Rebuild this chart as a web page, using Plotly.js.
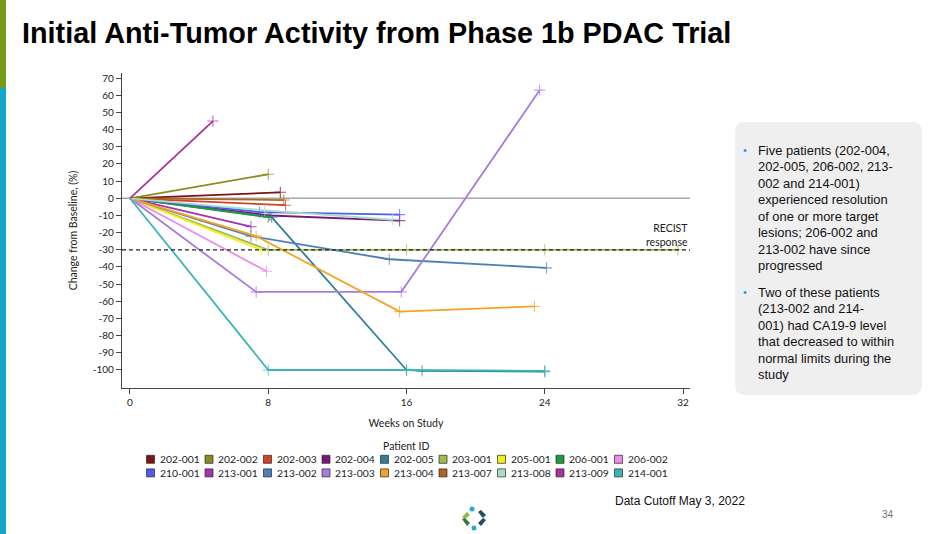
<!DOCTYPE html>
<html><head><meta charset="utf-8">
<script src="https://cdn.plot.ly/plotly-3.0.1.min.js"></script>
<style>html,body{margin:0;padding:0;background:#fff;}#chart{width:950px;height:534px;}</style>
</head><body><div id="chart"></div>
<script>
// ---- data ----
const patientIds = ['202-001','202-002','202-003','202-004','202-005','203-001','205-001','206-001','206-002',
                    '210-001','213-001','213-002','213-003','213-004','213-007','213-008','213-009','214-001'];
const lineColors = ['#7B1414','#8C8C1E','#D2402C','#78187A','#2F7E9C','#9CBE4E','#F2EE22','#1F9A3C','#EC8CEC',
                    '#4E5CF0','#A233B2','#4F7FBA','#A97BDE','#F5A324','#B0651C','#A6DEC6','#A8319E','#3DB5B7'];
const weeksOnStudy = [
  [0, 8.7], [0, 8.0], [0, 9.0], [0, 8.1, 15.6], [0, 8.2, 16.0, 16.9, 24.0],
  [0, 8.0, 16.0, 24.0, 31.7], [0, 7.6], [0, 8.0], [0, 7.9],
  [0, 7.5, 15.6], [0, 7.0], [0, 7.0, 15.0, 24.1], [0, 7.3, 15.7, 23.7], [0, 7.3, 15.6, 23.4],
  [0, 8.9], [0, 7.8, 15.2], [0, 4.8], [0, 8.0, 16.0, 24.0]
];
const pctChange = [
  [0, 3.5], [0, 14], [0, -4], [0, -10, -13], [0, -11, -100, -100.5, -101],
  [0, -30, -30, -30, -30], [0, -30], [0, -11], [0, -42.5],
  [0, -8, -9.5], [0, -16.5], [0, -22, -35.5, -40.5], [0, -54.5, -54.5, 63], [0, -22, -66, -63],
  [0, -1], [0, -7, -12.5], [0, 45], [0, -100, -100, -100.5]
];
const yTicks = [-100,-90,-80,-70,-60,-50,-40,-30,-20,-10,0,10,20,30,40,50,60,70];
const xTicks = [0, 8, 16, 24, 32];
const recistThreshold = -30;
const bulletPoints = [
  ['Five patients (202-004,', '202-005, 206-002, 213-', '002 and 214-001)', 'experienced resolution',
   'of one or more target', 'lesions; 206-002 and', '213-002 have since', 'progressed'],
  ['Two of these patients', '(213-002 and 214-', '001) had CA19-9 level', 'that decreased to within',
   'normal limits during the', 'study']
];

// ---- page geometry ----
const L = 122, R = 690, T = 73, B = 388;
const px = x => (x - L) / (R - L);
const py = y => (B - y) / (B - T);

const traces = patientIds.map((id, i) => ({
  type: 'scatter', mode: 'lines+markers', name: id, showlegend: false,
  x: weeksOnStudy[i], y: pctChange[i],
  line: { color: lineColors[i], width: 1.8 },
  marker: { symbol: 'cross-thin', size: weeksOnStudy[i].map((w, j) => j === 0 ? 0 : 8),
            color: lineColors[i], line: { color: lineColors[i], width: 1.1 } },
  hoverinfo: 'x+y+name'
}));

const shapes = [
  { type: 'line', xref: 'paper', x0: 0, x1: 1, yref: 'y', y0: 0, y1: 0, layer: 'below',
    line: { color: '#A8A8A8', width: 1.5 } },
  { type: 'line', xref: 'paper', x0: 0, x1: 1, yref: 'y', y0: recistThreshold, y1: recistThreshold, layer: 'above',
    line: { color: '#222', width: 1.3, dash: '4px,3px' } },
  // side bars
  { type: 'rect', xref: 'paper', yref: 'paper', x0: px(0), x1: px(6), y0: py(0), y1: py(88), line: { width: 0 }, fillcolor: '#779A17' },
  { type: 'rect', xref: 'paper', yref: 'paper', x0: px(0), x1: px(6), y0: py(88), y1: py(534), line: { width: 0 }, fillcolor: '#14A5C9' },
];
// rounded text box
(function () {
  const x0 = 735, x1 = 922, y0 = 122, y1 = 395, r = 10;
  const P = (x, y) => px(x).toFixed(5) + ',' + py(y).toFixed(5);
  const path = 'M' + P(x0 + r, y0) + ' L' + P(x1 - r, y0) + ' Q' + P(x1, y0) + ' ' + P(x1, y0 + r) +
    ' L' + P(x1, y1 - r) + ' Q' + P(x1, y1) + ' ' + P(x1 - r, y1) +
    ' L' + P(x0 + r, y1) + ' Q' + P(x0, y1) + ' ' + P(x0, y1 - r) +
    ' L' + P(x0, y0 + r) + ' Q' + P(x0, y0) + ' ' + P(x0 + r, y0) + ' Z';
  shapes.push({ type: 'path', xref: 'paper', yref: 'paper', path: path, fillcolor: '#EFEFEF', line: { width: 0 }, layer: 'below' });
})();
// logo
(function () {
  const P = (x, y) => px(x).toFixed(5) + ',' + py(y).toFixed(5);
  const poly = (pts, c) => shapes.push({ type: 'path', xref: 'paper', yref: 'paper',
    path: 'M' + pts.map(p => P(p[0], p[1])).join(' L') + ' Z', fillcolor: c, line: { width: 0 } });
  poly([[467, 512], [470, 515], [465, 519], [462, 517]], '#8DBE3F');
  poly([[462, 519], [465, 518], [470, 523], [467, 526]], '#2F7A43');
  poly([[478, 512], [481, 510], [486, 515], [483, 518]], '#1F4F5F');
  poly([[483, 518], [486, 520], [481, 526], [478, 523]], '#1F4F5F');
  const dot = (cx, cy, c) => shapes.push({ type: 'circle', xref: 'paper', yref: 'paper',
    x0: px(cx - 2.5), x1: px(cx + 2.5), y0: py(cy - 2.5), y1: py(cy + 2.5), fillcolor: c, line: { width: 0 } });
  dot(472, 509, '#2AA9CF');
  dot(474, 528, '#2AA9CF');
})();

const annotations = [
  { xref: 'paper', yref: 'paper', x: px(690), y: py(235), xanchor: 'right', yanchor: 'middle', align: 'right',
    text: 'RECIST<br>response', showarrow: false, font: { family: 'Lato', size: 10.5, color: '#222' } },
  { xref: 'paper', yref: 'paper', x: px(406), y: py(446), xanchor: 'center', yanchor: 'middle',
    text: 'Patient ID', showarrow: false, font: { family: 'Lato', size: 10.5, color: '#222' } },
  { xref: 'paper', yref: 'paper', x: px(680), y: py(501), xanchor: 'center', yanchor: 'middle', showarrow: false,
    text: 'Data Cutoff May 3, 2022', font: { family: 'Liberation Sans, Arial', size: 12, color: '#111' } },
  { xref: 'paper', yref: 'paper', x: px(888), y: py(514), xanchor: 'center', yanchor: 'middle', showarrow: false,
    text: '34', font: { family: 'Liberation Sans, Arial', size: 10, color: '#777' } },
];
// text box lines
const paraTop = [150, 292], lineStep = 16.5;
bulletPoints.forEach((lines, p) => {
  annotations.push({ xref: 'paper', yref: 'paper', x: px(745), y: py(paraTop[p]), xanchor: 'center', yanchor: 'middle',
    showarrow: false, text: '•', font: { family: 'Liberation Sans, Arial', size: 11, color: '#14A5C9' } });
  lines.forEach((t, k) => annotations.push({ xref: 'paper', yref: 'paper', x: px(756), y: py(paraTop[p] + k * lineStep),
    xanchor: 'left', yanchor: 'middle', showarrow: false, text: t,
    font: { family: 'Liberation Sans, Arial', size: 12.9, color: '#111' } }));
});

// legend (two rows of nine, square swatches)
patientIds.forEach((id, i) => {
  const row = Math.floor(i / 9), col = i % 9;
  const cx = 150.5 + col * 58.5, cy = 459.3 + row * 13.6;
  shapes.push({ type: 'rect', xref: 'paper', yref: 'paper', x0: px(cx - 4), x1: px(cx + 4), y0: py(cy - 4), y1: py(cy + 4),
    fillcolor: lineColors[i], line: { color: 'rgba(40,40,40,0.7)', width: 1 } });
  annotations.push({ xref: 'paper', yref: 'paper', x: px(cx + 7), y: py(cy), xanchor: 'left', yanchor: 'middle',
    showarrow: false, text: id, font: { family: 'Lato', size: 10.3, color: '#222' } });
});

const layout = {
  width: 950, height: 534,
  margin: { l: L, r: 950 - R, t: T, b: 534 - B, pad: 0 },
  paper_bgcolor: '#fff', plot_bgcolor: '#fff',
  showlegend: false,
  font: { family: 'Lato', size: 10, color: '#222' },
  title: { text: '<b>Initial Anti-Tumor Activity from Phase 1b PDAC Trial</b>', xref: 'container', yref: 'container',
           x: 22 / 950, xanchor: 'left', y: 1 - 33 / 534, yanchor: 'middle',
           font: { family: 'Liberation Sans, Arial', size: 28.8, color: '#000' } },
  xaxis: { range: [-0.46, 32.4], tickvals: xTicks, ticktext: xTicks.map(String), showgrid: false, zeroline: false,
           showline: true, linecolor: '#444', linewidth: 1.2, ticks: 'outside', ticklen: 5, tickcolor: '#444',
           tickfont: { family: 'Lato', size: 10, color: '#222' },
           title: { text: 'Weeks on Study', standoff: 12, font: { family: 'Lato', size: 10.5, color: '#222' } } },
  yaxis: { range: [-110.5, 73], tickvals: yTicks, ticktext: yTicks.map(String), showgrid: false, zeroline: false,
           showline: true, linecolor: '#444', linewidth: 1.2, ticks: 'outside', ticklen: 5, tickcolor: '#444',
           tickfont: { family: 'Lato', size: 10, color: '#222' },
           title: { text: 'Change from Baseline, (%)', standoff: 13, font: { family: 'Lato', size: 10.5, color: '#222' } } },
  shapes: shapes,
  annotations: annotations
};

Plotly.newPlot('chart', traces, layout, { displayModeBar: false, staticPlot: true });
</script>
</body></html>
